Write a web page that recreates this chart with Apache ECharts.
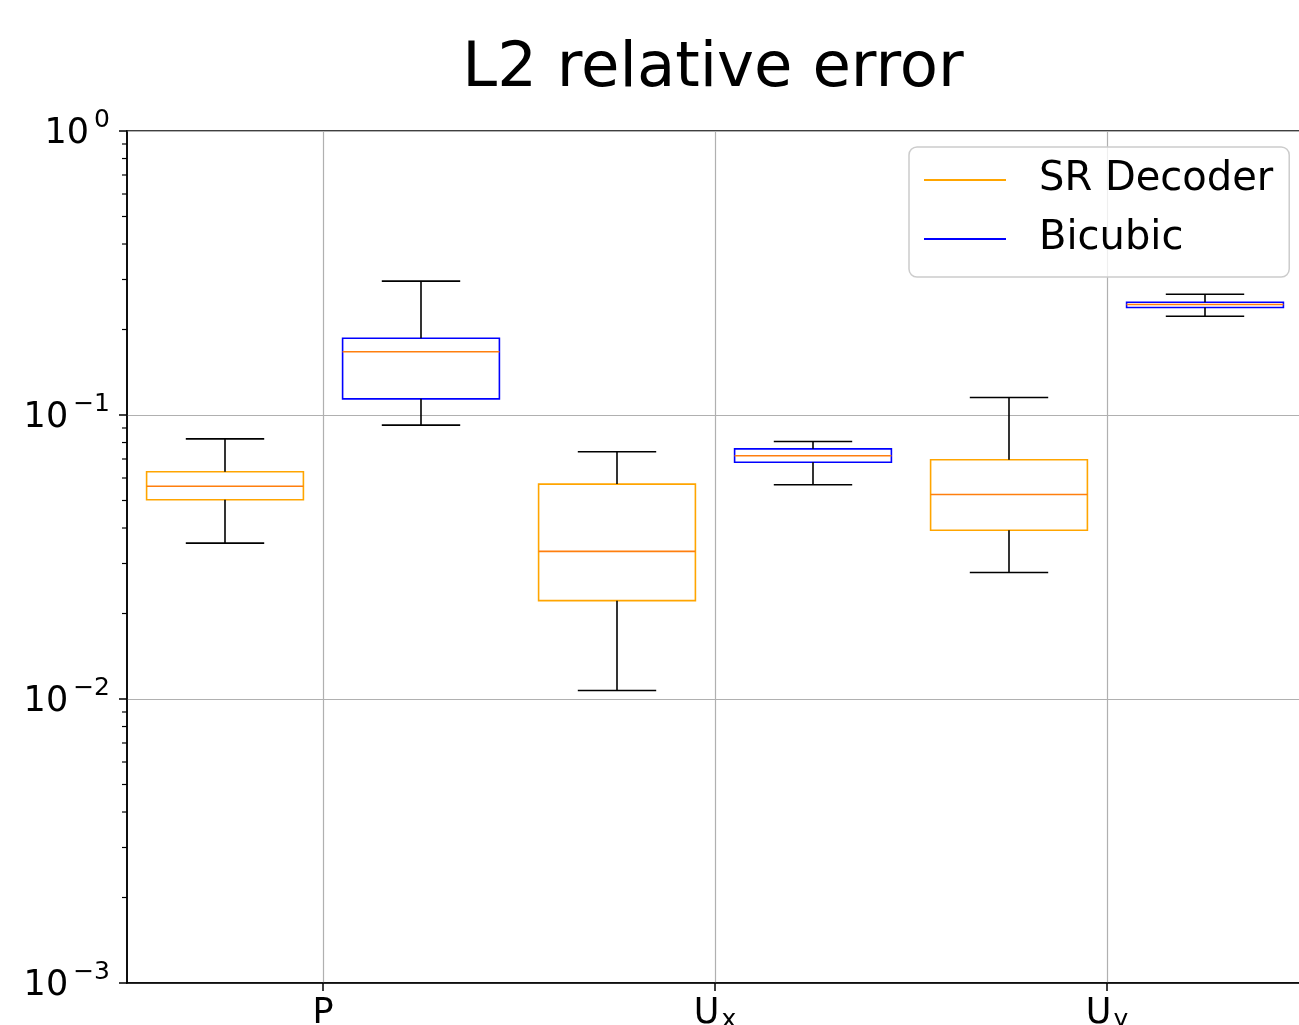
<!DOCTYPE html>
<html><head><meta charset="utf-8">
<script src="https://cdn.jsdelivr.net/npm/echarts@6/dist/echarts.min.js"></script>
<style>html,body{margin:0;padding:0;background:#fff}#c{width:1299px;height:1025px}</style>
</head><body><div id="c"></div>
<script>
// ---- data ----
const categories = ['P', 'Ux', 'Uy'];
const categoryLabels = ['{b|P}', '{b|U}{s|x}', '{b|U}{s|y}'];
const categoryTicks = [1.5, 3.5, 5.5];
// each row: [lower whisker, Q1, median, Q3, upper whisker]
const srDecoder = [
  [0.0354, 0.0503, 0.0561, 0.0631, 0.0824],
  [0.01071, 0.0222, 0.0331, 0.0571, 0.0742],
  [0.0279, 0.0393, 0.0525, 0.0696, 0.1152]
];
const bicubic = [
  [0.0921, 0.114, 0.167, 0.1864, 0.296],
  [0.0568, 0.0682, 0.0719, 0.0760, 0.0807],
  [0.2228, 0.239, 0.2449, 0.2495, 0.2663]
];
const srPositions = [1, 3, 5];
const bicubicPositions = [2, 4, 6];
const yMin = 0.001, yMax = 1;
const minorTickValues = [
  0.002, 0.003, 0.004, 0.005, 0.006, 0.007, 0.008, 0.009,
  0.02, 0.03, 0.04, 0.05, 0.06, 0.07, 0.08, 0.09,
  0.2, 0.3, 0.4, 0.5, 0.6, 0.7, 0.8, 0.9
];

const FONT = 'DejaVu Sans';
const chart = echarts.init(document.getElementById('c'), null, {renderer: 'canvas'});

function boxRenderer(edgeColor) {
  return function (params, api) {
    const x = api.value(0);
    const lo = api.value(1), q1 = api.value(2), md = api.value(3), q3 = api.value(4), hi = api.value(5);
    const xL = api.coord([x - 0.4, md])[0], xR = api.coord([x + 0.4, md])[0];
    const cx = api.coord([x, md])[0];
    const capL = api.coord([x - 0.2, md])[0], capR = api.coord([x + 0.2, md])[0];
    const yLo = api.coord([x, lo])[1], yHi = api.coord([x, hi])[1];
    const yQ1 = api.coord([x, q1])[1], yQ3 = api.coord([x, q3])[1], yMd = api.coord([x, md])[1];
    const black = {stroke: '#000', lineWidth: 1.6};
    return {type: 'group', children: [
      {type: 'rect', shape: {x: xL, y: yQ3, width: xR - xL, height: yQ1 - yQ3}, style: {fill: 'none', stroke: edgeColor, lineWidth: 1.6}},
      {type: 'line', shape: {x1: cx, y1: yQ1, x2: cx, y2: yLo}, style: black},
      {type: 'line', shape: {x1: cx, y1: yQ3, x2: cx, y2: yHi}, style: black},
      {type: 'line', shape: {x1: capL, y1: yLo, x2: capR, y2: yLo}, style: black},
      {type: 'line', shape: {x1: capL, y1: yHi, x2: capR, y2: yHi}, style: black},
      {type: 'line', shape: {x1: xL, y1: yMd, x2: xR, y2: yMd}, style: {stroke: '#ff7f0e', lineWidth: 1.6}}
    ]};
  };
}

function supLabel(v) {
  const e = Math.round(Math.log10(v));
  return '{b|10}{s|' + (e < 0 ? '\u2212' + (-e) : String(e)) + '}';
}

const option = {
  backgroundColor: '#fff',
  animation: false,
  title: {
    text: 'L2 relative error',
    left: 708, top: 33, textAlign: 'center',
    textStyle: {fontFamily: FONT, fontSize: 62.5, fontWeight: 'normal', color: '#000'}
  },
  legend: {
    left: 909, top: 147, orient: 'vertical',
    padding: [11, 16, 16, 15],
    itemWidth: 82, itemHeight: 2, itemGap: 15,
    icon: 'rect',
    backgroundColor: 'rgba(255,255,255,0.8)',
    borderColor: '#cccccc', borderWidth: 1.5, borderRadius: 8,
    textStyle: {fontFamily: FONT, fontSize: 40, lineHeight: 40, color: '#000', padding: [4, 0, 0, 28]},
    data: [
      {name: 'SR Decoder', itemStyle: {color: 'orange'}},
      {name: 'Bicubic', itemStyle: {color: 'blue'}}
    ],
    selectedMode: false
  },
  grid: {
    left: 127, top: 131, width: 1176, height: 852,
    outerBoundsMode: 'none',
    containLabel: false,
    show: true, borderColor: '#000', borderWidth: 1.5, backgroundColor: 'transparent'
  },
  xAxis: {
    type: 'value', min: 0.5, max: 6.5,
    axisLine: {show: true, lineStyle: {color: '#000', width: 1.5}},
    axisTick: {show: true, length: 8, lineStyle: {color: '#000', width: 1.5}, customValues: categoryTicks},
    splitLine: {show: true, lineStyle: {color: '#b0b0b0', width: 1.2}},
    axisLabel: {
      customValues: categoryTicks,
      margin: 12,
      formatter: function (v) {
        const i = categoryTicks.indexOf(v);
        return i >= 0 ? categoryLabels[i] : '';
      },
      rich: {
        b: {fontFamily: FONT, fontSize: 35, lineHeight: 38, color: '#000'},
        s: {fontFamily: FONT, fontSize: 25, lineHeight: 25, color: '#000', verticalAlign: 'bottom', padding: [0, 0, 0, 2]}
      }
    }
  },
  yAxis: {
    type: 'log', logBase: 10, min: yMin, max: yMax,
    axisLine: {show: true, lineStyle: {color: '#000', width: 1.5}},
    axisTick: {show: true, length: 8, lineStyle: {color: '#000', width: 1.5}},
    splitLine: {show: true, lineStyle: {color: '#b0b0b0', width: 1.2}},
    axisLabel: {
      margin: 17,
      padding: [5, 0, 0, 0],
      formatter: supLabel,
      rich: {
        b: {fontFamily: FONT, fontSize: 35, lineHeight: 51, color: '#000'},
        s: {fontFamily: FONT, fontSize: 25, lineHeight: 25, color: '#000', verticalAlign: 'top', padding: [0, 0, 0, 5]}
      }
    }
  },
  series: [
    {
      name: 'SR Decoder', type: 'custom',
      itemStyle: {color: 'orange'},
      renderItem: boxRenderer('orange'),
      encode: {x: 0, y: [1, 2, 3, 4, 5]},
      data: srDecoder.map((s, i) => [srPositions[i]].concat(s)),
      z: 3
    },
    {
      name: 'Bicubic', type: 'custom',
      itemStyle: {color: 'blue'},
      renderItem: boxRenderer('blue'),
      encode: {x: 0, y: [1, 2, 3, 4, 5]},
      data: bicubic.map((s, i) => [bicubicPositions[i]].concat(s)),
      z: 3
    },
    {
      name: 'minorTicks', type: 'custom', silent: true, clip: false,
      renderItem: function (params, api) {
        const p = api.coord([0.5, api.value(1)]);
        return {type: 'line', shape: {x1: p[0] - 5, y1: p[1], x2: p[0], y2: p[1]}, style: {stroke: '#000', lineWidth: 1.2}};
      },
      encode: {x: 0, y: 1},
      data: minorTickValues.map(v => [0.5, v])
    }
  ]
};
chart.setOption(option);
</script>
</body></html>
